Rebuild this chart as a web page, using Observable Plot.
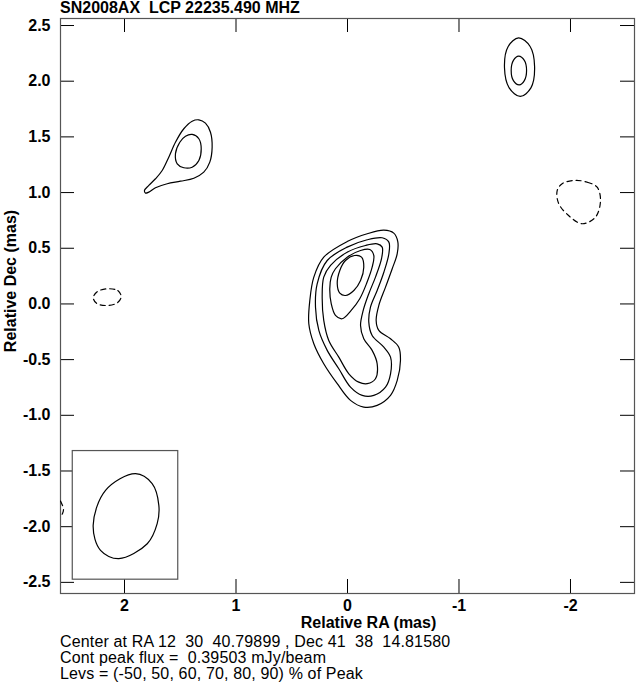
<!DOCTYPE html>
<html><head><meta charset="utf-8">
<script src="https://cdn.jsdelivr.net/npm/d3@7"></script>
<script src="https://cdn.jsdelivr.net/npm/@observablehq/plot@0.6"></script>
<style>
body{margin:0;background:#fff;font-family:"Liberation Sans",Arial,sans-serif;color:#000;}
#title{height:14px;line-height:15px;font-size:16px;font-weight:bold;padding-left:60px;white-space:pre;}
#footer{padding-left:60px;font-size:16px;line-height:16px;white-space:pre;letter-spacing:0.15px;margin-top:1px;}
svg{display:block}
</style></head><body>
<div id="title"></div><div id="chart"></div><div id="footer"></div>
<script>
// ---- text ----
const titleText = "SN2008AX  LCP 22235.490 MHZ";
const xLabel = "Relative RA (mas)";
const yLabel = "Relative Dec (mas)";
const footerLines = [
  "Center at RA 12  30  40.79899 , Dec 41  38  14.81580",
  "Cont peak flux =  0.39503 mJy/beam",
  "Levs = (-50, 50, 60, 70, 80, 90) % of Peak"
];
// ---- axes ----
const xDomain = [2.574, -2.574];
const yDomain = [-2.6, 2.563];
const xTicks = [2, 1, 0, -1, -2];
const xTickLabels = ["2", "1", "0", "-1", "-2"];
const yTicks = [2.5, 2.0, 1.5, 1.0, 0.5, 0.0, -0.5, -1.0, -1.5, -2.0, -2.5];
const yTickLabels = ["2.5", "2.0", "1.5", "1.0", "0.5", "0.0", "-0.5", "-1.0", "-1.5", "-2.0", "-2.5"];
// ---- contours (RA mas, Dec mas) ----
const core50 = [[0.213,0.420],[0.003,0.560],[-0.177,0.630],[-0.326,0.662],[-0.415,0.636],[-0.451,0.560],[-0.446,0.451],[-0.401,0.316],[-0.341,0.151],[-0.281,-0.013],[-0.257,-0.148],[-0.281,-0.238],[-0.386,-0.313],[-0.460,-0.388],[-0.475,-0.507],[-0.446,-0.687],[-0.386,-0.821],[-0.266,-0.911],[-0.146,-0.926],[-0.027,-0.866],[0.092,-0.716],[0.213,-0.537],[0.302,-0.357],[0.347,-0.178],[0.338,0.031],[0.302,0.241]];
const core60 = [[0.182,0.390],[0.003,0.510],[-0.177,0.576],[-0.311,0.594],[-0.371,0.555],[-0.371,0.451],[-0.326,0.285],[-0.266,0.121],[-0.206,-0.029],[-0.191,-0.163],[-0.221,-0.283],[-0.326,-0.388],[-0.386,-0.478],[-0.386,-0.627],[-0.341,-0.747],[-0.236,-0.821],[-0.132,-0.821],[-0.027,-0.747],[0.078,-0.582],[0.182,-0.417],[0.257,-0.238],[0.287,-0.029],[0.272,0.181]];
const core70 = [[0.152,0.346],[0.003,0.465],[-0.161,0.525],[-0.266,0.540],[-0.311,0.510],[-0.305,0.406],[-0.251,0.241],[-0.191,0.092],[-0.141,-0.058],[-0.117,-0.193],[-0.146,-0.313],[-0.221,-0.417],[-0.266,-0.537],[-0.251,-0.672],[-0.177,-0.716],[-0.101,-0.702],[-0.012,-0.627],[0.078,-0.478],[0.168,-0.328],[0.213,-0.148],[0.227,0.061],[0.213,0.241]];
const core80 = [[0.108,0.316],[0.003,0.420],[-0.117,0.480],[-0.200,0.489],[-0.236,0.435],[-0.221,0.330],[-0.170,0.181],[-0.110,0.047],[-0.033,-0.058],[0.048,-0.133],[0.108,-0.103],[0.146,0.002],[0.159,0.136],[0.146,0.241]];
const core90 = [[0.069,0.301],[0.018,0.390],[-0.063,0.435],[-0.126,0.420],[-0.146,0.330],[-0.117,0.211],[-0.057,0.121],[0.018,0.076],[0.069,0.097],[0.092,0.181]];
const neOuter = [[1.333,1.653],[1.274,1.623],[1.229,1.542],[1.214,1.408],[1.235,1.273],[1.289,1.183],[1.378,1.129],[1.498,1.102],[1.617,1.079],[1.722,1.043],[1.782,1.004],[1.812,0.995],[1.821,1.019],[1.782,1.064],[1.722,1.124],[1.662,1.198],[1.603,1.318],[1.543,1.452],[1.468,1.573],[1.393,1.641]];
const neInner = [[1.393,1.522],[1.333,1.483],[1.312,1.393],[1.333,1.288],[1.393,1.228],[1.468,1.223],[1.527,1.258],[1.543,1.348],[1.504,1.452],[1.453,1.506]];
const topOuter = [[-1.535,2.389],[-1.638,2.312],[-1.678,2.130],[-1.645,1.940],[-1.550,1.863],[-1.450,1.940],[-1.408,2.120],[-1.440,2.310]];
const topInner = [[-1.535,2.225],[-1.586,2.187],[-1.606,2.096],[-1.586,2.005],[-1.540,1.967],[-1.488,2.005],[-1.468,2.096],[-1.488,2.187]];
const negRight = [[-2.045,1.109],[-2.150,1.093],[-2.239,1.048],[-2.269,0.929],[-2.224,0.779],[-2.105,0.720],[-2.000,0.779],[-1.895,0.899],[-1.881,1.019],[-1.928,1.082]];
const negLeft = [[2.150,0.136],[2.060,0.120],[2.030,0.065],[2.065,0.010],[2.160,-0.014],[2.250,0.005],[2.280,0.055],[2.245,0.110]];
const negEdge = [[2.574,-1.770],[2.560,-1.800],[2.547,-1.840],[2.555,-1.880],[2.574,-1.910]];
// ---- beam ----
const beamBox = [{x1: 2.464, x2: 1.518, y1: -1.321, y2: -2.476}];
const beamShape = [[1.901,-1.524],[1.752,-1.614],[1.692,-1.809],[1.707,-1.973],[1.796,-2.153],[2.051,-2.287],[2.215,-2.213],[2.281,-1.988],[2.170,-1.674]];

const toRows = (arr, id) => arr.map(([x, y]) => ({x, y, id}));
const solid = [
  ...toRows(core50, "c50"), ...toRows(core60, "c60"), ...toRows(core70, "c70"),
  ...toRows(core80, "c80"), ...toRows(core90, "c90"),
  ...toRows(neOuter, "n1"), ...toRows(neInner, "n2"),
  ...toRows(topOuter, "t1"), ...toRows(topInner, "t2")
];
const dashed = [...toRows(negRight, "r"), ...toRows(negLeft, "l")];
const edge = toRows(negEdge, "e");
const beam = toRows(beamShape, "b");

document.getElementById("title").textContent = titleText;
document.getElementById("footer").innerHTML = footerLines.map(s => `<div>${s}</div>`).join("");

const fw = 574, fh = 575, tick = 14;
const chart = Plot.plot({
  width: 636, height: 4 + fh + 40,
  marginTop: 4, marginLeft: 60, marginRight: 2, marginBottom: 40,
  x: {domain: xDomain},
  y: {domain: yDomain},
  style: {fontFamily: '"Liberation Sans", Arial, sans-serif', fontSize: "16px", background: "white", overflow: "visible", color: "black"},
  marks: [
    Plot.ruleX(xTicks, {x: d => d, insetBottom: fh - tick, stroke: "black"}),
    Plot.ruleX(xTicks, {x: d => d, insetTop: fh - tick, stroke: "black"}),
    Plot.ruleY(yTicks, {y: d => d, insetRight: fw - tick, stroke: "black"}),
    Plot.ruleY(yTicks, {y: d => d, insetLeft: fw - tick, stroke: "black"}),
    Plot.frame({stroke: "#555", strokeWidth: 1.2}),
    Plot.axisX(xTicks, {anchor: "bottom", tickSize: 0, tickPadding: 6, tickFormat: d => xTickLabels[xTicks.indexOf(d)], fontWeight: "bold", label: null}),
    Plot.axisY(yTicks, {anchor: "left", tickSize: 0, tickPadding: 10, tickFormat: d => yTickLabels[yTicks.indexOf(d)], fontWeight: "bold", label: null}),
    Plot.text([xLabel], {text: d => d, frameAnchor: "bottom", textAnchor: "middle", dx: 21, dy: 29, lineAnchor: "middle", fontWeight: "bold"}),
    Plot.text([yLabel], {text: d => d, frameAnchor: "left", textAnchor: "middle", rotate: -90, dx: -50, dy: -25, lineAnchor: "middle", fontWeight: "bold"}),
    Plot.rect(beamBox, {x1: "x1", x2: "x2", y1: "y1", y2: "y2", fill: "white", stroke: "#555", strokeWidth: 1.2}),
    Plot.line(beam, {x: "x", y: "y", z: "id", curve: "catmull-rom-closed", stroke: "black", strokeWidth: 1.2}),
    Plot.line(solid, {x: "x", y: "y", z: "id", curve: "catmull-rom-closed", stroke: "black", strokeWidth: 1.2}),
    Plot.line(dashed, {x: "x", y: "y", z: "id", curve: "catmull-rom-closed", stroke: "black", strokeWidth: 1.2, strokeDasharray: "5,4"}),
    Plot.line(edge, {x: "x", y: "y", z: "id", curve: "catmull-rom", stroke: "black", strokeWidth: 1.2, strokeDasharray: "5,4", clip: true})
  ]
});
document.getElementById("chart").appendChild(chart);
</script>
</body></html>
